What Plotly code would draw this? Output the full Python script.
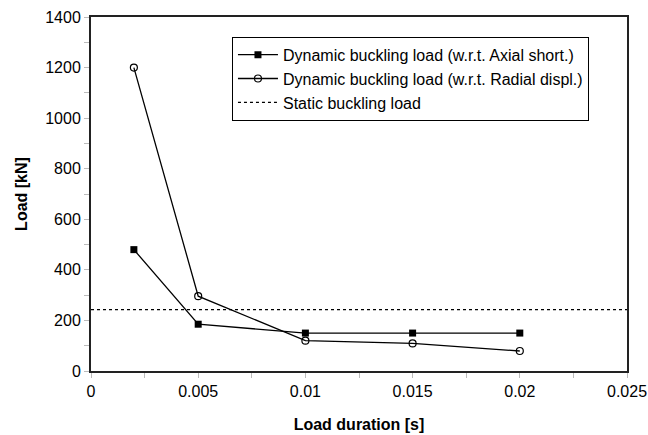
import plotly.graph_objects as go

# Load duration [s]
durations = [0.002, 0.005, 0.01, 0.015, 0.02]
# Dynamic buckling load [kN]
axial_short_load = [480, 185, 150, 150, 150]
radial_displ_load = [1200, 296, 120, 109, 79]
# Static buckling load [kN]
static_load = 243
x_range = [0, 0.025]
y_range = [0, 1400]

font_family = "Liberation Sans, Arial, sans-serif"

fig = go.Figure()
fig.add_trace(go.Scatter(
    x=durations, y=axial_short_load, mode="lines+markers",
    name="Dynamic buckling load (w.r.t. Axial short.)",
    line=dict(color="black", width=1.3),
    marker=dict(symbol="square", size=7, color="black"),
))
fig.add_trace(go.Scatter(
    x=durations, y=radial_displ_load, mode="lines+markers",
    name="Dynamic buckling load (w.r.t. Radial displ.)",
    line=dict(color="black", width=1.3),
    marker=dict(symbol="circle-open", size=7, color="black", line=dict(width=1.2)),
))
fig.add_trace(go.Scatter(
    x=x_range, y=[static_load, static_load], mode="lines",
    name="Static buckling load",
    line=dict(color="black", width=1.3, dash="dot"),
))

axis_common = dict(
    showgrid=False, zeroline=False, showline=True, mirror=True,
    linecolor="#222", linewidth=2, automargin=False,
    ticks="outside", ticklen=5, tickcolor="#bbb", tickwidth=1,
    tickfont=dict(family=font_family, size=16, color="black"),
)

fig.update_layout(
    width=648, height=435,
    margin=dict(l=91, r=21, t=17, b=64),
    paper_bgcolor="white", plot_bgcolor="white",
    font=dict(family=font_family, size=16, color="black"),
    xaxis=dict(
        range=x_range, dtick=0.005, tickformat="~g",
        title=dict(text="<b>Load duration [s]</b>", font=dict(size=16), standoff=20),
        minor=dict(ticks="outside", ticklen=5, tickcolor="#bbb", dtick=0.0025),
        **axis_common,
    ),
    yaxis=dict(
        range=y_range, dtick=200,
        title=dict(text="<b>Load [kN]</b>", font=dict(size=16), standoff=14),
        minor=dict(ticks="outside", ticklen=5, tickcolor="#bbb", dtick=100),
        **axis_common,
    ),
    legend=dict(
        x=0.263, y=0.944, xanchor="left", yanchor="top",
        bordercolor="black", borderwidth=1, bgcolor="white",
        font=dict(family=font_family, size=16),
        tracegroupgap=0, itemwidth=40,
    ),
    showlegend=True,
)

fig.write_html("out.html")
